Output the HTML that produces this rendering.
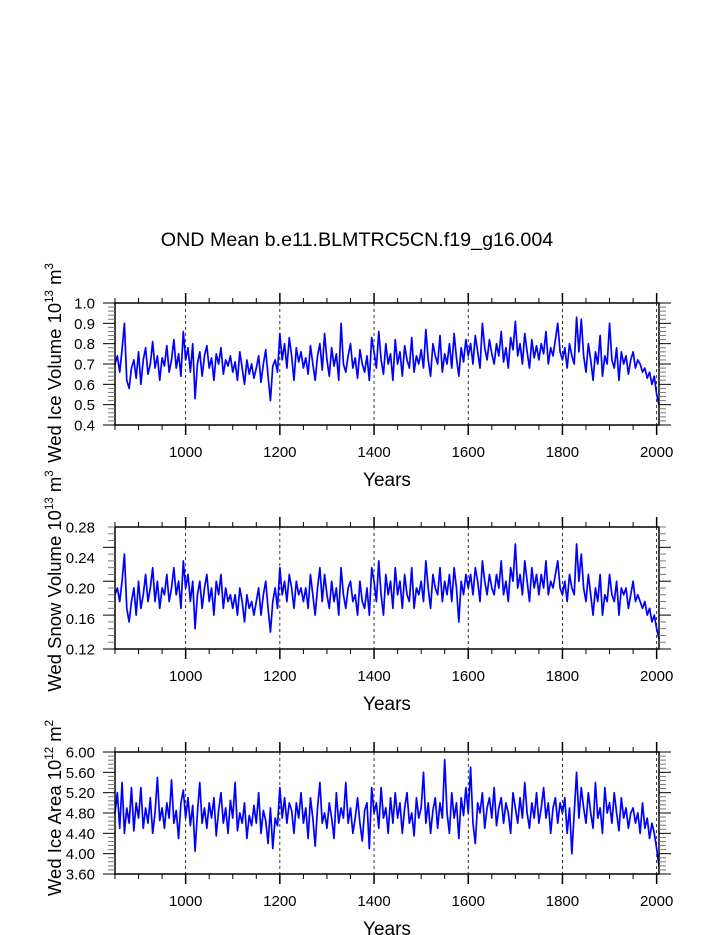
<!DOCTYPE html>
<html><head><meta charset="utf-8">
<style>
html,body{margin:0;padding:0;background:#fff;}
svg{display:block;font-family:"Liberation Sans",Arial,sans-serif;}
</style></head>
<body>
<svg id="chart" width="723" height="935" viewBox="0 0 723 935" xmlns="http://www.w3.org/2000/svg">
<text x="357" y="246" font-size="19.7" text-anchor="middle">OND Mean b.e11.BLMTRC5CN.f19_g16.004</text>
</svg>
<script>
const years0 = 850, yearStep = 5;
const xTickLabels = [1000,1200,1400,1600,1800,2000];
const iceVolume = [
0.70,0.74,0.66,0.77,0.90,0.62,0.58,0.68,0.72,0.63,
0.76,0.60,0.72,0.78,0.65,0.70,0.81,0.68,0.74,0.62,
0.73,0.69,0.79,0.66,0.72,0.82,0.68,0.75,0.64,0.86,
0.72,0.78,0.66,0.80,0.53,0.70,0.76,0.64,0.74,0.79,
0.68,0.73,0.62,0.75,0.70,0.78,0.65,0.72,0.69,0.74,
0.66,0.71,0.62,0.76,0.68,0.60,0.72,0.65,0.70,0.63,
0.68,0.74,0.61,0.70,0.77,0.64,0.52,0.69,0.72,0.66,
0.85,0.72,0.80,0.68,0.83,0.74,0.62,0.78,0.71,0.76,
0.68,0.73,0.65,0.79,0.70,0.62,0.74,0.80,0.67,0.85,
0.72,0.64,0.78,0.69,0.75,0.62,0.90,0.70,0.66,0.74,
0.80,0.68,0.73,0.63,0.77,0.70,0.66,0.74,0.62,0.83,
0.76,0.68,0.86,0.72,0.65,0.80,0.70,0.75,0.62,0.82,
0.70,0.76,0.64,0.79,0.72,0.68,0.83,0.66,0.74,0.70,
0.77,0.68,0.87,0.72,0.64,0.80,0.74,0.70,0.84,0.66,
0.75,0.70,0.80,0.68,0.85,0.73,0.64,0.78,0.71,0.82,
0.74,0.80,0.70,0.84,0.76,0.68,0.90,0.78,0.72,0.82,
0.75,0.70,0.80,0.74,0.86,0.71,0.78,0.68,0.83,0.77,
0.91,0.74,0.80,0.70,0.85,0.76,0.68,0.82,0.73,0.79,
0.72,0.80,0.75,0.86,0.70,0.78,0.74,0.82,0.90,0.76,
0.72,0.78,0.68,0.80,0.74,0.70,0.93,0.76,0.92,0.74,
0.66,0.80,0.72,0.62,0.76,0.70,0.84,0.64,0.74,0.70,
0.90,0.72,0.68,0.78,0.62,0.76,0.70,0.74,0.65,0.72,
0.76,0.68,0.72,0.70,0.66,0.68,0.63,0.66,0.60,0.64,
0.55,0.50];
const snowVolume = [
0.20,0.21,0.19,0.22,0.26,0.18,0.16,0.19,0.21,0.17,
0.22,0.18,0.20,0.23,0.19,0.21,0.24,0.19,0.22,0.18,
0.21,0.20,0.23,0.19,0.21,0.24,0.20,0.22,0.18,0.25,
0.21,0.23,0.19,0.22,0.15,0.20,0.22,0.18,0.21,0.23,
0.19,0.21,0.17,0.22,0.20,0.23,0.18,0.21,0.19,0.20,
0.18,0.20,0.17,0.21,0.19,0.16,0.20,0.18,0.19,0.17,
0.19,0.21,0.17,0.20,0.22,0.18,0.145,0.19,0.21,0.18,
0.24,0.20,0.22,0.19,0.23,0.21,0.18,0.22,0.20,0.21,
0.19,0.21,0.18,0.23,0.20,0.17,0.21,0.24,0.19,0.23,
0.20,0.18,0.22,0.19,0.21,0.17,0.24,0.20,0.18,0.21,
0.22,0.19,0.20,0.17,0.22,0.19,0.18,0.21,0.17,0.24,
0.22,0.19,0.25,0.20,0.17,0.23,0.20,0.22,0.18,0.24,
0.20,0.22,0.18,0.23,0.20,0.19,0.24,0.18,0.21,0.20,
0.22,0.19,0.25,0.21,0.18,0.23,0.21,0.20,0.24,0.19,
0.22,0.20,0.23,0.19,0.24,0.21,0.16,0.22,0.20,0.23,
0.21,0.23,0.20,0.24,0.22,0.19,0.25,0.22,0.20,0.23,
0.21,0.20,0.23,0.21,0.25,0.20,0.22,0.19,0.24,0.22,
0.275,0.21,0.23,0.20,0.25,0.22,0.19,0.24,0.21,0.23,
0.20,0.23,0.21,0.25,0.20,0.22,0.21,0.23,0.25,0.21,
0.20,0.22,0.19,0.23,0.21,0.20,0.275,0.22,0.26,0.21,
0.19,0.23,0.20,0.17,0.21,0.19,0.23,0.17,0.20,0.19,
0.23,0.20,0.19,0.22,0.17,0.21,0.20,0.21,0.18,0.20,
0.22,0.19,0.20,0.19,0.18,0.19,0.17,0.18,0.16,0.17,
0.15,0.135];
const iceArea = [
4.80,5.20,4.50,5.40,4.40,4.90,4.60,5.30,4.45,5.00,
4.70,5.30,4.50,4.90,4.60,5.10,4.40,4.80,5.50,4.65,
4.90,4.50,5.00,4.70,5.45,4.60,4.85,4.30,5.00,5.25,
4.70,5.10,4.55,4.95,4.05,4.80,5.40,4.60,4.90,4.50,
5.00,4.70,5.10,4.35,4.85,5.20,4.60,4.90,4.40,5.05,
4.70,5.40,4.45,4.80,4.60,5.00,4.30,4.75,4.55,4.95,
4.60,5.20,4.40,4.85,4.65,4.20,4.90,4.10,4.70,4.55,
5.30,4.70,5.10,4.60,5.00,4.85,4.40,5.00,4.70,5.20,
4.60,4.90,4.30,5.10,4.70,4.15,4.90,5.40,4.60,4.80,
4.50,5.00,4.70,4.30,5.20,4.60,4.90,4.70,5.40,4.60,
4.90,4.40,4.70,5.10,4.60,4.25,4.85,5.00,4.10,5.30,
4.80,5.00,4.50,5.30,4.70,4.90,4.40,5.10,4.60,5.20,
4.70,5.00,4.40,4.90,5.20,4.60,4.80,4.35,5.10,4.70,
4.90,5.60,4.60,5.00,4.40,4.85,5.10,4.50,5.00,4.70,
5.85,4.80,4.40,5.20,4.70,5.00,4.30,5.10,4.75,5.30,
4.80,5.70,4.60,4.20,5.00,4.80,5.20,4.50,4.90,5.10,
4.70,5.30,4.55,4.90,5.10,4.60,5.00,4.80,4.40,5.20,
4.90,4.60,5.10,4.70,5.40,4.80,4.50,5.00,4.70,5.20,
4.60,4.90,5.30,4.70,5.00,4.40,4.90,5.10,4.60,5.00,
4.80,5.10,4.40,4.90,4.00,4.80,5.60,4.70,5.30,4.90,
4.60,5.20,4.80,4.50,5.40,4.70,4.90,4.40,5.30,4.80,
5.00,4.60,5.20,4.80,4.45,5.10,4.70,4.90,4.50,4.80,
4.90,4.60,4.80,4.40,5.00,4.50,4.70,4.30,4.60,4.40,
4.10,3.75];
const iceTicks = ["0.4","0.5","0.6","0.7","0.8","0.9","1.0"];
const snowTicks = ["0.12","0.16","0.20","0.24","0.28"];
const areaTicks = ["3.60","4.00","4.40","4.80","5.20","5.60","6.00"];

const NS = "http://www.w3.org/2000/svg";
const svg = document.getElementById('chart');
const X0 = 115, X1 = 659, YR0 = 850, YR1 = 2005;
function xScale(yr){ return X0 + (yr - YR0) / (YR1 - YR0) * (X1 - X0); }
function mk(tag, attrs, parent){
  const e = document.createElementNS(NS, tag);
  for (const k in attrs) e.setAttribute(k, attrs[k]);
  (parent || svg).appendChild(e);
  return e;
}
function panel(key, top, bottom, ymin, ymax, ticks, minorStep, data, titleMain, expo, unitExp, titleCenter){
  const g = mk('g', {});
  
  
  const y = v => bottom - (v - ymin) / (ymax - ymin) * (bottom - top);
  xTickLabels.forEach(t => {
    const l = mk('line', {x1: xScale(t), x2: xScale(t), y1: top, y2: bottom, stroke: '#000', 'stroke-width': 0.8, 'stroke-dasharray': '3,3'}, g);
    
    
  });
  let d = '';
  data.forEach((v, i) => { d += (i ? 'L' : 'M') + xScale(years0 + i * yearStep).toFixed(2) + ',' + y(v).toFixed(2); });
  const p = mk('path', {d: d, fill: 'none', stroke: '#0000ff', 'stroke-width': 1.7, 'stroke-linejoin': 'round'}, g);
  
  
  const fr = mk('rect', {x: X0, y: top, width: X1 - X0, height: bottom - top, fill: 'none', stroke: '#000', 'stroke-width': 1.5}, g);
  
  
  for (let yr = 850; yr <= 2000; yr += 50) {
    const major = yr % 200 === 0;
    const len = major ? 10 : 5;
    const xx = xScale(yr);
    mk('line', {x1: xx, x2: xx, y1: top, y2: top - len, stroke: '#000', 'stroke-width': major ? 1.5 : 1}, g);
    mk('line', {x1: xx, x2: xx, y1: bottom, y2: bottom + len, stroke: '#000', 'stroke-width': major ? 1.5 : 1}, g);
  }
  xTickLabels.forEach(t => {
    const tx = mk('text', {x: xScale(t), y: bottom + 32, 'font-size': 15, 'text-anchor': 'middle'}, g);
    tx.textContent = t;
    
    
  });
  const n = Math.round((ymax - ymin) / minorStep);
  const majorEvery = Math.round(((ymax - ymin) / (ticks.length - 1)) / minorStep);
  for (let i = 0; i <= n; i++) {
    const yy = y(ymin + i * minorStep);
    const major = i % majorEvery === 0;
    const len = major ? 12 : 7;
    mk('line', {x1: X0, x2: X0 - len, y1: yy, y2: yy, stroke: major ? '#000' : '#777', 'stroke-width': 1}, g);
    mk('line', {x1: X1, x2: X1 + len, y1: yy, y2: yy, stroke: major ? '#000' : '#777', 'stroke-width': 1}, g);
  }
  ticks.forEach((t, i) => {
    const v = ymin + i * (ymax - ymin) / (ticks.length - 1);
    const tx = mk('text', {x: 95, y: y(v) + 5.5, 'font-size': 15, 'text-anchor': 'end'}, g);
    tx.textContent = t;
    
    
  });
  const xt = mk('text', {x: 387, y: bottom + 61, 'font-size': 19, 'text-anchor': 'middle'}, g);
  xt.textContent = 'Years';
  
  
  const yt = mk('text', {x: 0, y: 0, 'font-size': 18.5, 'text-anchor': 'middle', transform: 'translate(61,' + titleCenter + ') rotate(-90)'}, g);
  
  
  const s1 = mk('tspan', {}, yt); s1.textContent = titleMain + ' 10';
  const s2 = mk('tspan', {'font-size': 11.5, dy: -8}, yt); s2.textContent = expo;
  const s3 = mk('tspan', {dy: 8}, yt); s3.textContent = ' m';
  const s4 = mk('tspan', {'font-size': 11.5, dy: -8}, yt); s4.textContent = unitExp;
}
panel('ice-volume', 303, 425, 0.4, 1.0, iceTicks, 0.02, iceVolume, 'Wed Ice Volume', '13', '3', 363);
panel('snow-volume', 527, 649, 0.12, 0.30, snowTicks, 0.01, snowVolume, 'Wed Snow Volume', '13', '3', 581);
panel('ice-area', 752, 874, 3.6, 6.0, areaTicks, 0.08, iceArea, 'Wed Ice Area', '12', '2', 808);
</script>
</body></html>
